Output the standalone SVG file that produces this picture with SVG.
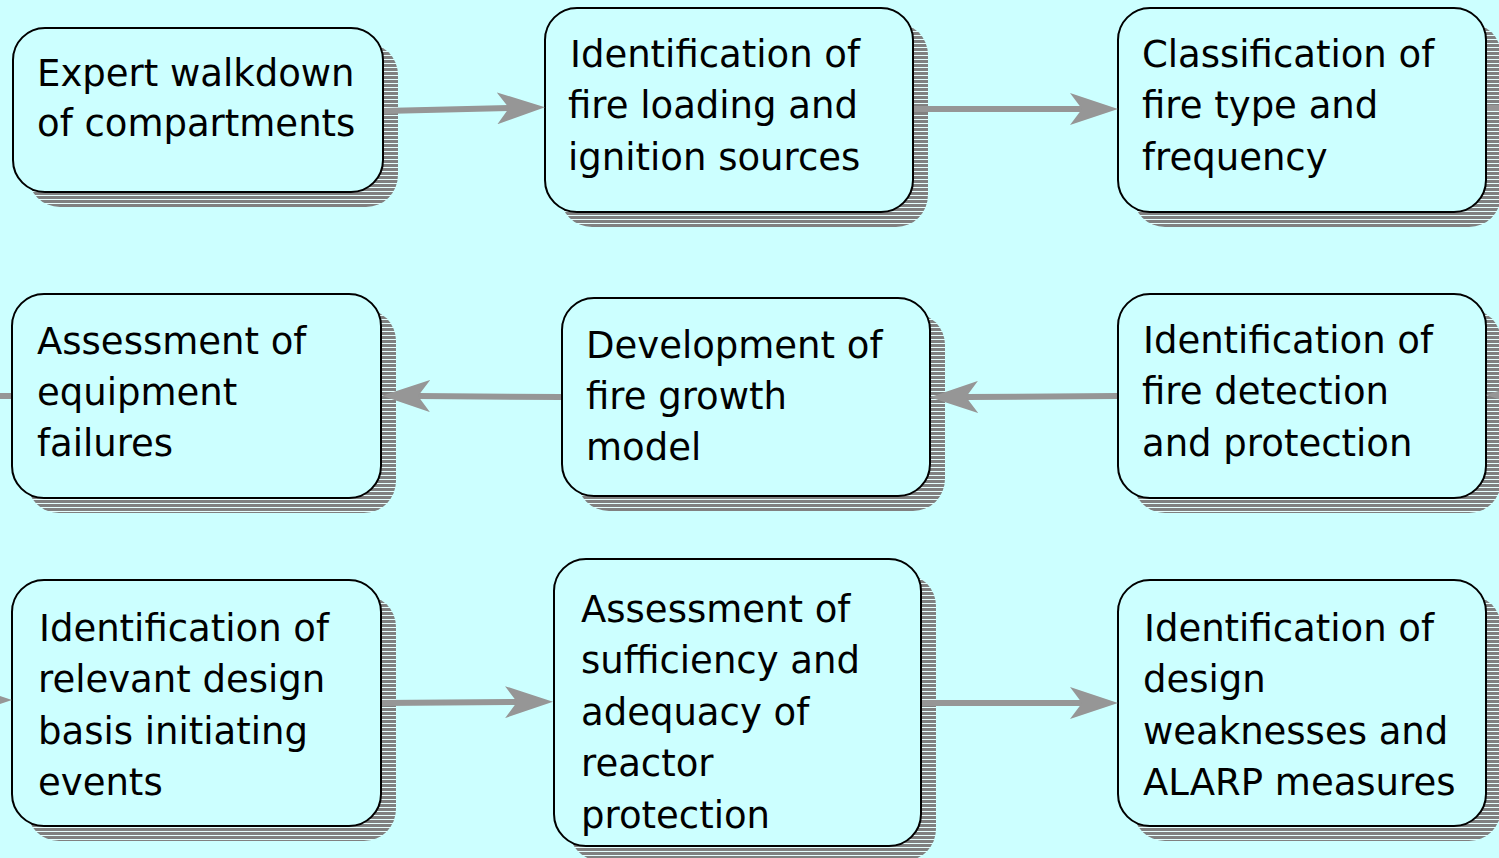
<svg xmlns="http://www.w3.org/2000/svg" width="1499" height="858" viewBox="0 0 1499 858">
<defs>
<pattern id="stripes" patternUnits="userSpaceOnUse" x="0" y="0" width="8" height="4">
<rect x="0" y="0" width="8" height="4" fill="#808080"/>
<rect x="0" y="3" width="8" height="1" fill="#e6ffff"/>
</pattern>
<marker id="head" viewBox="0 0 48 32" refX="12" refY="16" markerWidth="48" markerHeight="32" markerUnits="userSpaceOnUse" orient="auto">
<path d="M0,0 L48,16 L0,32 L12,16 z" fill="#969696"/>
</marker>
<style>
.shadow { fill: url(#stripes); stroke: none; }
.box { fill: #ccffff; stroke: #000; stroke-width: 2; }
.lbl { font-family: "DejaVu Sans", "Liberation Sans", sans-serif; font-size: 37px; fill: #000; }
.conn { fill: none; stroke: #969696; stroke-width: 6; marker-end: url(#head); }
.stub { fill: none; stroke: #969696; stroke-width: 6; }
</style>
</defs>
<rect x="0" y="0" width="1499" height="858" fill="#ccffff"/>

<g id="node-expert-walkdown">
<rect class="shadow" x="28" y="43" width="370" height="164" rx="32"/>
<rect class="box" x="13" y="28" width="370" height="164" rx="32"/>
<text class="lbl" x="37" y="86">Expert walkdown</text>
<text class="lbl" x="37" y="136">of compartments</text>
</g>

<g id="node-fire-loading">
<rect class="shadow" x="560" y="23" width="368" height="204" rx="32"/>
<rect class="box" x="545" y="8" width="368" height="204" rx="32"/>
<text class="lbl" x="570" y="67">Identification of</text>
<text class="lbl" x="568" y="118">fire loading and</text>
<text class="lbl" x="568" y="170">ignition sources</text>
</g>

<g id="node-classification">
<rect class="shadow" x="1133" y="23" width="368" height="204" rx="32"/>
<rect class="box" x="1118" y="8" width="368" height="204" rx="32"/>
<text class="lbl" x="1142" y="67">Classification of</text>
<text class="lbl" x="1142" y="118">fire type and</text>
<text class="lbl" x="1142" y="170">frequency</text>
</g>

<g id="node-equipment-failures">
<rect class="shadow" x="27" y="309" width="369" height="204" rx="32"/>
<rect class="box" x="12" y="294" width="369" height="204" rx="32"/>
<text class="lbl" x="37" y="354">Assessment of</text>
<text class="lbl" x="37" y="405">equipment</text>
<text class="lbl" x="37" y="456">failures</text>
</g>

<g id="node-fire-growth">
<rect class="shadow" x="577" y="313" width="368" height="198" rx="32"/>
<rect class="box" x="562" y="298" width="368" height="198" rx="32"/>
<text class="lbl" x="586" y="358">Development of</text>
<text class="lbl" x="586" y="409">fire growth</text>
<text class="lbl" x="586" y="460">model</text>
</g>

<g id="node-detection-protection">
<rect class="shadow" x="1133" y="309" width="368" height="204" rx="32"/>
<rect class="box" x="1118" y="294" width="368" height="204" rx="32"/>
<text class="lbl" x="1143" y="353">Identification of</text>
<text class="lbl" x="1142" y="404">fire detection</text>
<text class="lbl" x="1142" y="456">and protection</text>
</g>

<g id="node-initiating-events">
<rect class="shadow" x="27" y="595" width="369" height="246" rx="32"/>
<rect class="box" x="12" y="580" width="369" height="246" rx="32"/>
<text class="lbl" x="39" y="641">Identification of</text>
<text class="lbl" x="38" y="692">relevant design</text>
<text class="lbl" x="38" y="744">basis initiating</text>
<text class="lbl" x="38" y="795">events</text>
</g>

<g id="node-reactor-protection">
<rect class="shadow" x="569" y="574" width="367" height="287" rx="32"/>
<rect class="box" x="554" y="559" width="367" height="287" rx="32"/>
<text class="lbl" x="581" y="622">Assessment of</text>
<text class="lbl" x="581" y="673">sufficiency and</text>
<text class="lbl" x="581" y="725">adequacy of</text>
<text class="lbl" x="581" y="776">reactor</text>
<text class="lbl" x="581" y="828">protection</text>
</g>

<g id="node-design-weaknesses">
<rect class="shadow" x="1133" y="595" width="368" height="246" rx="32"/>
<rect class="box" x="1118" y="580" width="368" height="246" rx="32"/>
<text class="lbl" x="1144" y="641">Identification of</text>
<text class="lbl" x="1143" y="692">design</text>
<text class="lbl" x="1143" y="744">weaknesses and</text>
<text class="lbl" x="1143" y="795">ALARP measures</text>
</g>

<g id="connectors">
<path class="conn" d="M384,111 L509,108"/>
<path class="conn" d="M914,109 L1082,109"/>
<path class="conn" d="M1117,396 L966,397"/>
<path class="conn" d="M561,397 L418,396"/>
<path class="conn" d="M382,703 L517,702"/>
<path class="conn" d="M922,703 L1082,703"/>
<path class="stub" d="M11,396 L-10,396"/>
<path class="conn" d="M-70,700 L-24,700"/>
<path class="stub" d="M1487,108 L1510,108"/>
<path class="conn" d="M1580,395 L1522,395"/>
</g>
</svg>
